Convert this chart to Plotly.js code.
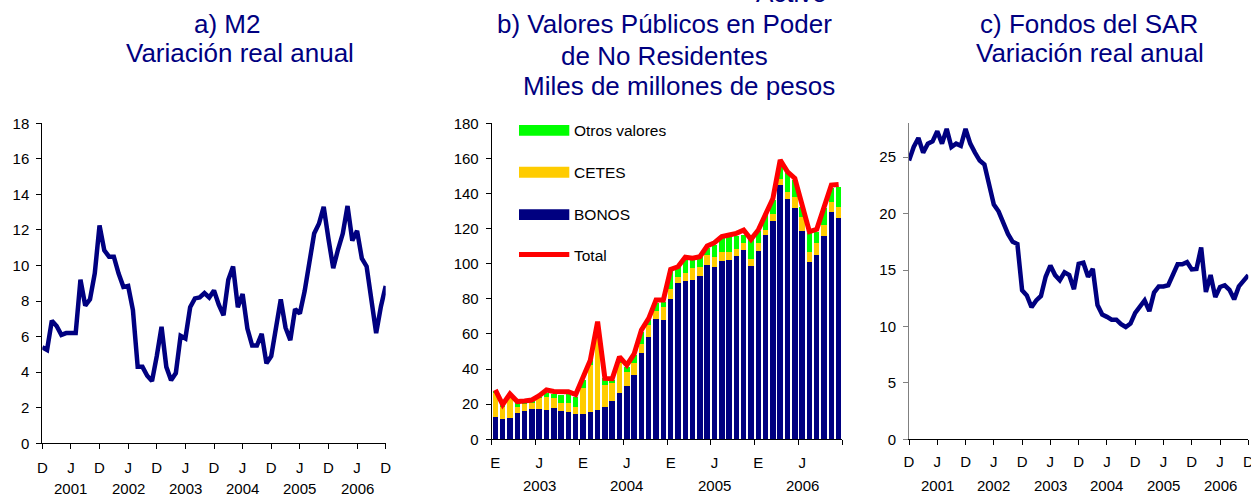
<!DOCTYPE html>
<html>
<head>
<meta charset="utf-8">
<script src="https://cdn.plot.ly/plotly-3.0.1.min.js"></script>
<style>html,body{margin:0;padding:0;background:#fff;}#chart{width:1251px;height:497px;}</style>
</head>
<body>
<div id="chart"></div>
<script>
// ---------- DATA ----------
// Panel a) M2, variación real anual (%), monthly Dec-2000 .. Dec-2006
const m2Values = [5.4,5.25,6.9,6.6,6.1,6.2,6.2,6.2,9.2,7.75,
  8.1,9.55,12.25,10.85,10.5,10.5,9.55,8.8,8.85,7.5,
  4.3,4.3,3.8,3.5,4.9,6.55,4.3,3.55,3.95,6.05,
  5.9,7.65,8.15,8.2,8.45,8.2,8.6,7.8,7.2,9.2,
  9.95,7.65,8.4,6.45,5.5,5.5,6.15,4.5,4.9,6.4,
  8.1,6.5,5.8,7.55,7.3,8.55,10.3,11.8,12.35,13.3,
  11.5,9.85,10.9,11.8,13.35,11.4,11.95,10.4,9.95,8.15,
  6.2,7.7,8.85];

// Panel c) Fondos del SAR, variación real anual (%), monthly Dec-2000 .. Dec-2006
const sarValues = [24.7,25.9,26.7,25.4,26.2,26.4,27.3,26.2,27.5,25.9,
  26.2,26.0,27.5,26.2,25.4,24.7,24.35,22.65,20.8,20.2,
  19.1,18.2,17.5,17.3,13.2,12.75,11.7,12.3,12.7,14.4,
  15.4,14.55,14.1,14.8,14.55,13.3,15.55,15.65,14.4,15.1,
  11.9,11.05,10.85,10.6,10.6,10.2,9.95,10.25,11.2,11.7,
  12.3,11.35,13.0,13.55,13.55,13.65,14.7,15.5,15.5,15.7,
  15.05,15.1,17.0,13.05,14.55,12.6,13.5,13.65,13.25,12.4,
  13.55,14.1,14.55];

// Tick labels for panels a and c (every 6 months, Dec-2000 .. Dec-2006)
const monthTicksAC = ["D","J","D","J","D","J","D","J","D","J","D","J","D"];
const yearsAC = ["2001","2002","2003","2004","2005","2006"];

// Panel b) Valores públicos en poder de no residentes (miles de millones de pesos), Jan-2003 .. Dec-2006
const bonos = [12.9,11.6,12.3,15.2,16.3,17.3,17.3,16.7,17.8,16.3,15.7,14.6,
  14.5,15.7,16.7,18.6,22.0,26.6,30.4,36.6,49.3,58.5,68.5,68.0,
  79.9,88.8,90.2,90.7,93.0,99.4,98.3,101.7,102.1,104.4,107.8,98.7,
  107.2,116.3,124.3,144.8,136.9,131.9,118.6,101.2,105.0,115.8,129.7,126.2];
const cetes = [13.3,7.0,12.0,3.4,3.8,3.2,6.0,7.6,5.9,4.6,5.2,4.0,
  14.5,26.6,40.8,12.3,10.3,16.7,8.1,6.7,5.0,6.6,4.8,7.6,
  5.5,3.4,4.4,6.7,5.0,5.5,5.7,5.2,4.4,4.0,3.8,3.8,
  4.4,2.9,4.0,3.3,3.8,6.3,8.2,5.6,6.6,6.2,5.7,6.3];
const otros = [1.5,0.9,0.9,1.9,1.4,1.3,1.0,1.9,2.1,4.5,4.9,5.7,
  5.0,2.7,9.5,3.8,1.5,2.7,2.9,4.7,7.0,2.9,4.2,2.8,
  11.4,6.1,8.5,5.7,6.4,3.9,6.7,7.6,8.5,7.4,4.8,11.4,
  6.9,8.6,8.0,9.1,10.8,9.5,5.7,10.5,6.7,9.6,7.6,11.4];
const total = [28.1,19.8,25.8,21.5,21.8,22.4,24.8,28.1,27.2,27.1,27.1,25.5,
  34.7,45.0,67.0,34.7,34.5,47.0,42.3,48.6,62.3,68.9,79.3,79.3,
  96.8,98.3,103.7,103.1,104.0,110.1,112.0,115.5,116.4,117.3,119.2,113.9,
  119.2,128.7,137.2,159.1,152.4,148.7,133.5,118.3,119.6,132.5,144.8,145.2];
const monthTicksB = ["E","J","E","J","E","J","E","J"];
const yearsB = ["2003","2004","2005","2006"];
const seriesNamesB = ["Otros valores","CETES","BONOS","Total"];

// Titles
const titleA = ["a) M2","Variación real anual"];
const titleB = ["Activo","b) Valores Públicos en Poder","de No Residentes","Miles de millones de pesos"];
const titleC = ["c) Fondos del SAR","Variación real anual"];

// ---------- STYLE / LAYOUT ----------
const W = 1251, H = 497;
const px = v => v / W;
const py = v => 1 - v / H;
const FONT = "Liberation Sans, Arial, Helvetica, sans-serif";
const NAVY = "#000080", YEL = "#FFCC00", GRN = "#00FF00", RED = "#FF0000";
const tickFont = {family: FONT, size: 15, color: "#000"};
const titleFont = {family: FONT, size: 26, color: NAVY};

const idxAC = m2Values.map((_, i) => i);
const idxB = bonos.map((_, i) => i);
const tickPosAC = monthTicksAC.map((_, i) => i * 6);
const tickPosB = monthTicksB.map((_, i) => i * 6);
const boundsB = [];
for (let i = 0; i <= 8; i++) boundsB.push(i * 6 - 0.5);

const traces = [
  {type: "scatter", mode: "lines", x: idxAC, y: m2Values, xaxis: "x", yaxis: "y",
   line: {color: NAVY, width: 4.5}, showlegend: false, hoverinfo: "skip"},
  {type: "bar", name: seriesNamesB[2], x: idxB, y: bonos, xaxis: "x2", yaxis: "y2",
   marker: {color: NAVY, line: {width: 0}}, showlegend: false},
  {type: "bar", name: seriesNamesB[1], x: idxB, y: cetes, xaxis: "x2", yaxis: "y2",
   marker: {color: YEL, line: {width: 0}}, showlegend: false},
  {type: "bar", name: seriesNamesB[0], x: idxB, y: otros, xaxis: "x2", yaxis: "y2",
   marker: {color: GRN, line: {width: 0}}, showlegend: false},
  {type: "scatter", mode: "lines", name: seriesNamesB[3], x: idxB, y: total, xaxis: "x4", yaxis: "y2",
   line: {color: RED, width: 5}, showlegend: false},
  {type: "scatter", mode: "lines", x: idxAC, y: sarValues, xaxis: "x3", yaxis: "y3",
   line: {color: NAVY, width: 4.5}, showlegend: false, hoverinfo: "skip"}
];

const baseX = {
  tickmode: "array", ticks: "outside", ticklen: 5, tickcolor: "#000", tickwidth: 1,
  showline: true, linecolor: "#000", linewidth: 1, showgrid: false, zeroline: false,
  tickfont: tickFont, fixedrange: true, ticklabelstandoff: 6, ticklabeloverflow: "allow"
};
const baseY = {
  tickmode: "linear", tick0: 0, ticks: "outside", ticklen: 5, tickcolor: "#000", tickwidth: 1,
  showline: true, linecolor: "#000", linewidth: 1, showgrid: false, zeroline: false,
  tickfont: tickFont, fixedrange: true, ticklabelstandoff: 4
};

const layout = {
  width: W, height: H,
  margin: {l: 0, r: 0, t: 0, b: 0, pad: 0},
  paper_bgcolor: "#fff", plot_bgcolor: "rgba(0,0,0,0)",
  barmode: "stack", bargap: 0.25,
  showlegend: false,
  font: {family: FONT},
  xaxis: Object.assign({}, baseX, {domain: [px(42.3), px(385.7)], range: [0, 72], anchor: "y",
    tickvals: tickPosAC, ticktext: monthTicksAC}),
  yaxis: Object.assign({}, baseY, {domain: [py(443.3), py(123.3)], range: [0, 18], dtick: 2, anchor: "x"}),
  xaxis2: Object.assign({}, baseX, {domain: [px(491.7), px(842.3)], range: [-0.5, 47.5], anchor: "y2",
    tickvals: boundsB, ticktext: boundsB.map(() => ""), ticklabelstandoff: 0}),
  xaxis4: Object.assign({}, baseX, {domain: [px(491.7), px(842.3)], range: [-0.5, 47.5], anchor: "y2",
    overlaying: "x2", side: "bottom", ticks: "", showline: false,
    tickvals: tickPosB, ticktext: monthTicksB, ticklabelstandoff: 13}),
  yaxis2: Object.assign({}, baseY, {domain: [py(439.3), py(123.3)], range: [0, 180], dtick: 20, anchor: "x2"}),
  xaxis3: Object.assign({}, baseX, {domain: [px(909), px(1248.3)], range: [0, 72], anchor: "y3",
    tickvals: tickPosAC, ticktext: monthTicksAC, ticklabelstandoff: 4}),
  yaxis3: Object.assign({}, baseY, {domain: [py(439.3), py(123.3)], range: [0, 28], dtick: 5, anchor: "x3",
    linecolor: "#808080", tickcolor: "#808080"}),
  annotations: [],
  shapes: []
};

function ann(text, x, y, opts) {
  layout.annotations.push(Object.assign({
    text: text, x: x, y: y, xref: "paper", yref: "paper",
    xanchor: "center", yanchor: "middle", showarrow: false, font: titleFont
  }, opts || {}));
}

// Titles
ann(titleA[0], px(226.7), py(24));
ann(titleA[1], px(240), py(53));
ann(titleB[0], px(792), py(-7));
ann(titleB[1], px(665), py(24));
ann(titleB[2], px(665), py(55.5));
ann(titleB[3], px(678.5), py(86.5));
ann(titleC[0], px(1089), py(24));
ann(titleC[1], px(1090), py(53));

// Year labels
yearsAC.forEach((yr, i) => {
  ann(yr, 6 + 12 * i, py(488.3), {xref: "x", font: tickFont});
  ann(yr, 6 + 12 * i, py(485), {xref: "x3", font: tickFont});
});
yearsB.forEach((yr, i) => {
  ann(yr, 6 + 12 * i, py(485), {xref: "x2", font: tickFont});
});

// Manual legend for panel b
const legFont = {family: FONT, size: 15.5, color: "#000"};
const legColors = [GRN, YEL, NAVY];
const legY = [[125, 135.7], [166.7, 177.7], [209.3, 220]];
legColors.forEach((c, i) => {
  layout.shapes.push({type: "rect", xref: "paper", yref: "paper",
    x0: px(519), x1: px(569.3), y0: py(legY[i][1]), y1: py(legY[i][0]),
    fillcolor: c, line: {width: 0}});
  ann(seriesNamesB[i], px(572), py((legY[i][0] + legY[i][1]) / 2), {xanchor: "left", font: legFont});
});
layout.shapes.push({type: "line", xref: "paper", yref: "paper",
  x0: px(519), x1: px(569.3), y0: py(254.5), y1: py(254.5), line: {color: RED, width: 5}});
ann(seriesNamesB[3], px(572), py(255), {xanchor: "left", font: legFont});

Plotly.newPlot("chart", traces, layout, {displayModeBar: false, staticPlot: true});
</script>
</body>
</html>
